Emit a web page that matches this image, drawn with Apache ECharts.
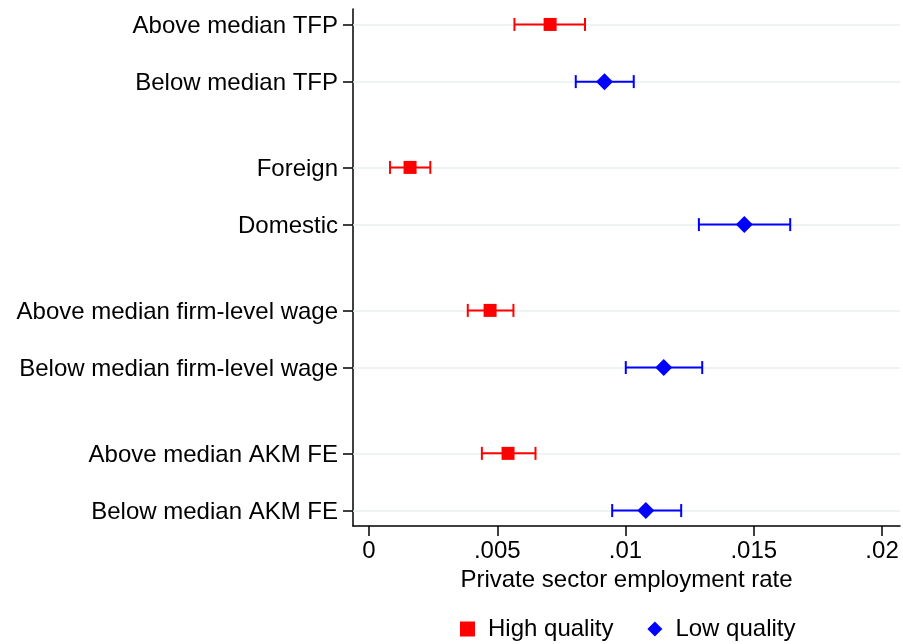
<!DOCTYPE html>
<html lang="en">
<head>
    <meta charset="utf-8">
    <title>Private sector employment rate</title>
    <script src="https://cdn.jsdelivr.net/npm/echarts@6/dist/echarts.min.js"></script>
    <style>
        body { margin: 0; background: #fff; }
        #main { width: 903px; height: 644px; }
    </style>
</head>
<body>
<div id="main"></div>
<script>
    // rows top to bottom, in pairs (high quality, low quality)
    let rowLabels = ['Above median TFP', 'Below median TFP', 'Foreign', 'Domestic',
        'Above median firm-level wage', 'Below median firm-level wage',
        'Above median AKM FE', 'Below median AKM FE'];
    let estimate = [0.00706, 0.00918, 0.00160, 0.01463, 0.00472, 0.01149, 0.00542, 0.01079];
    let lower = [0.00567, 0.00806, 0.00082, 0.01286, 0.00385, 0.01001, 0.00440, 0.00948];
    let upper = [0.00842, 0.01032, 0.00239, 0.01642, 0.00563, 0.01299, 0.00649, 0.01217];
    let xTicks = [0, 0.005, 0.01, 0.015, 0.02];
    let xTickLabels = ['0', '.005', '.01', '.015', '.02'];
    let seriesNames = ['High quality', 'Low quality'];

    let font = "'Liberation Sans', Arial, sans-serif";
    let fontSize = 24;
    let colors = ['#ff0000', '#0000ff'];
    let symbols = ['rect', 'diamond'];

    // each group of two rows is followed by half a row of empty space
    let rowPos = rowLabels.map((_, i) => Math.floor(i / 2) * 2.5 + (i % 2));

    let myChart = echarts.init(document.getElementById('main'));

    let series = [];
    for (let k = 0; k < 2; k++) {
        let pts = [], bars = [];
        for (let i = k; i < rowLabels.length; i += 2) {
            pts.push([estimate[i], rowPos[i]]);
            bars.push([lower[i], upper[i], rowPos[i]]);
        }
        series.push({
            name: seriesNames[k],
            type: 'custom',
            z: 3,
            silent: true,
            data: bars,
            encode: {x: [0, 1], y: 2},
            renderItem: function (params, api) {
                let a = api.coord([api.value(0), api.value(2)]);
                let b = api.coord([api.value(1), api.value(2)]);
                let h = 6.5;
                let st = {stroke: colors[k], lineWidth: 2};
                return {
                    type: 'group',
                    children: [
                        {type: 'line', shape: {x1: a[0], y1: a[1], x2: b[0], y2: b[1]}, style: st},
                        {type: 'line', shape: {x1: a[0], y1: a[1] - h, x2: a[0], y2: a[1] + h}, style: st},
                        {type: 'line', shape: {x1: b[0], y1: b[1] - h, x2: b[0], y2: b[1] + h}, style: st}
                    ]
                };
            }
        });
        series.push({
            name: seriesNames[k],
            type: 'scatter',
            z: 4,
            symbol: symbols[k],
            symbolSize: k === 0 ? 13 : 17,
            itemStyle: {color: colors[k], opacity: 1},
            data: pts
        });
    }
    // light horizontal guide lines at every row
    series[0].markLine = {
        silent: true,
        symbol: 'none',
        label: {show: false},
        z: 1,
        lineStyle: {color: '#e8eff1', width: 1.5, type: 'solid'},
        data: rowPos.map(p => ({yAxis: p}))
    };

    let option = {
        animation: false,
        color: colors,
        grid: {left: 353, right: 3, top: 9, bottom: 118},
        legend: {
            top: 612,
            left: 455,
            itemGap: 34,
            itemWidth: 15,
            itemHeight: 15,
            textStyle: {fontFamily: font, fontSize: fontSize, color: '#000', padding: [0, 0, 0, 8]},
            data: [{name: seriesNames[0], icon: 'rect', itemStyle: {color: colors[0]}},
                {name: seriesNames[1], icon: 'diamond', itemStyle: {color: colors[1]}}]
        },
        xAxis: {
            type: 'value',
            min: -0.000624,
            max: 0.0207,
            name: 'Private sector employment rate',
            nameLocation: 'middle',
            nameGap: 38,
            nameTextStyle: {fontFamily: font, fontSize: fontSize, color: '#000'},
            axisLine: {show: true, onZero: false, lineStyle: {color: '#000', width: 1.5}},
            axisTick: {show: true, length: 10, lineStyle: {color: '#000', width: 1.5}, customValues: xTicks},
            axisLabel: {
                fontFamily: font, fontSize: fontSize, color: '#000', margin: 13,
                customValues: xTicks,
                formatter: function (v) {
                    let i = xTicks.findIndex(t => Math.abs(t - v) < 1e-9);
                    return i >= 0 ? xTickLabels[i] : '';
                }
            },
            splitLine: {show: false}
        },
        yAxis: {
            type: 'value',
            inverse: true,
            min: -0.27,
            max: 8.77,
            axisLine: {show: true, onZero: false, lineStyle: {color: '#000', width: 1.5}},
            axisTick: {show: true, length: 10, lineStyle: {color: '#000', width: 1.5}, customValues: rowPos},
            axisLabel: {
                fontFamily: font, fontSize: fontSize, color: '#000', margin: 15,
                customValues: rowPos,
                rich: {
                    r: {fontFamily: font, fontSize: fontSize, color: '#000', padding: [4, 0, 0, 0]}
                },
                formatter: function (v) {
                    let i = rowPos.findIndex(p => Math.abs(p - v) < 1e-6);
                    return i >= 0 ? '{r|' + rowLabels[i] + '}' : '';
                }
            },
            splitLine: {show: false}
        },
        series: series
    };
    myChart.setOption(option);
</script>
</body>
</html>
